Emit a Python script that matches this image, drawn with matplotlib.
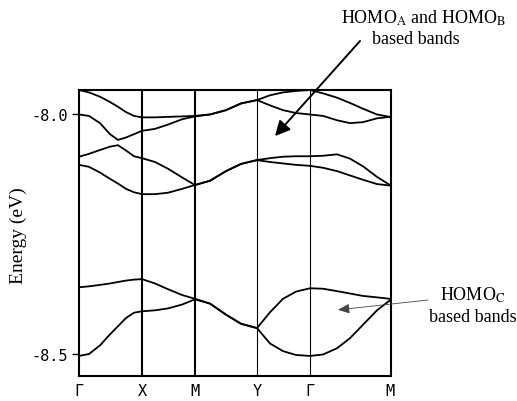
import numpy as np
from matplotlib import pyplot as plt

plt.rcParams['mathtext.fontset'] = 'stix'

# k-path positions (arbitrary units along the path) and high-symmetry labels
k_points = [0, 10, 21, 31, 39, 47, 55, 63, 76, 89, 103, 116, 131, 147, 162, 178,
            191, 204, 217, 231, 244, 258, 271, 284, 298, 311]
sym_k = [0, 63, 116, 178, 231, 311]
sym_labels = ['Γ', 'X', 'M', 'Y', 'Γ', 'M']

# band energies (eV) read along the path
band1 = [-7.950, -7.955, -7.964, -7.975, -7.985, -7.996, -8.004, -8.007, -8.007, -8.006,
         -8.005, -8.004, -8.001, -7.992, -7.978, -7.971, -7.961, -7.955, -7.952, -7.950,
         -7.957, -7.966, -7.977, -7.989, -8.001, -8.006]
band2 = [-8.001, -8.004, -8.019, -8.042, -8.054, -8.049, -8.042, -8.035, -8.031, -8.022,
         -8.011, -8.005, -8.001, -7.992, -7.978, -7.971, -7.982, -7.992, -7.998, -8.001,
         -8.004, -8.013, -8.019, -8.017, -8.009, -8.006]
band3 = [-8.089, -8.083, -8.075, -8.068, -8.065, -8.076, -8.088, -8.092, -8.100, -8.114,
         -8.132, -8.148, -8.139, -8.119, -8.104, -8.096, -8.092, -8.089, -8.088, -8.088,
         -8.087, -8.084, -8.093, -8.109, -8.131, -8.148]
band4 = [-8.106, -8.110, -8.122, -8.135, -8.145, -8.156, -8.163, -8.167, -8.167, -8.164,
         -8.156, -8.148, -8.139, -8.119, -8.104, -8.096, -8.100, -8.103, -8.106, -8.108,
         -8.112, -8.119, -8.128, -8.137, -8.146, -8.149]
band5 = [-8.361, -8.359, -8.356, -8.353, -8.350, -8.347, -8.345, -8.344, -8.353, -8.365,
         -8.377, -8.385, -8.395, -8.418, -8.437, -8.446, -8.413, -8.385, -8.370, -8.363,
         -8.364, -8.369, -8.374, -8.379, -8.382, -8.385]
band6 = [-8.504, -8.500, -8.482, -8.459, -8.442, -8.425, -8.414, -8.411, -8.409, -8.405,
         -8.397, -8.386, -8.395, -8.418, -8.437, -8.446, -8.478, -8.494, -8.502, -8.504,
         -8.501, -8.488, -8.467, -8.439, -8.409, -8.388]
bands = [band1, band2, band3, band4, band5, band6]

y_ticks = [-8.0, -8.5]
y_ticklabels = ['-8.0', '-8.5']

W, H = 517, 402
fig = plt.figure(figsize=(W / 100, H / 100), dpi=100)
ax = fig.add_axes([79 / W, 1 - 377 / H, 312 / W, 286 / H])

for b in bands:
    ax.plot(k_points, b, color='black', lw=1.3, solid_joinstyle='round')

for i, k in enumerate(sym_k[1:-1]):
    ax.axvline(k, color='black', lw=1.5 if i < 2 else 0.8)

ax.set_xlim(0, 312)
ax.set_ylim(-8.5458, -7.95)
ax.set_xticks(sym_k)
ax.set_xticklabels(sym_labels, family='DejaVu Sans Mono', fontsize=11)
ax.tick_params(axis='x', length=0, pad=5)
ax.set_yticks(y_ticks)
ax.set_yticklabels(y_ticklabels, family='DejaVu Sans Mono', fontsize=11)
ax.tick_params(axis='y', length=5, width=1, direction='out', pad=3)
for s in ax.spines.values():
    s.set_linewidth(1.5)

fig.text(18 / W, 1 - 236 / H, 'Energy (eV)', rotation=90, ha='center', va='center',
         family='Liberation Serif', fontsize=14)

# upper annotation
fig.text(423 / W, 1 - 18 / H, r'HOMO$_{\mathrm{A}}$ and HOMO$_{\mathrm{B}}$',
         ha='center', va='center', family='Liberation Serif', fontsize=13)
fig.text(416 / W, 1 - 40 / H, 'based bands', ha='center', va='center',
         family='Liberation Serif', fontsize=13)
ax.annotate('', xy=(196, -8.046), xycoords='data',
            xytext=(360 / W, 1 - 42 / H), textcoords='figure fraction',
            arrowprops=dict(arrowstyle='-|>,head_length=0.9,head_width=0.45',
                            color='black', lw=1.4, shrinkA=0, shrinkB=0))

# lower annotation
fig.text(473 / W, 1 - 295 / H, r'HOMO$_{\mathrm{C}}$', ha='center', va='center',
         family='Liberation Serif', fontsize=13)
fig.text(473 / W, 1 - 318 / H, 'based bands', ha='center', va='center',
         family='Liberation Serif', fontsize=13)
ax.annotate('', xy=(259, -8.408), xycoords='data',
            xytext=(428 / W, 1 - 301 / H), textcoords='figure fraction',
            arrowprops=dict(arrowstyle='-|>,head_length=0.7,head_width=0.3',
                            color='#444444', lw=0.6, shrinkA=0, shrinkB=0))

fig.savefig('out.png', dpi=100)
